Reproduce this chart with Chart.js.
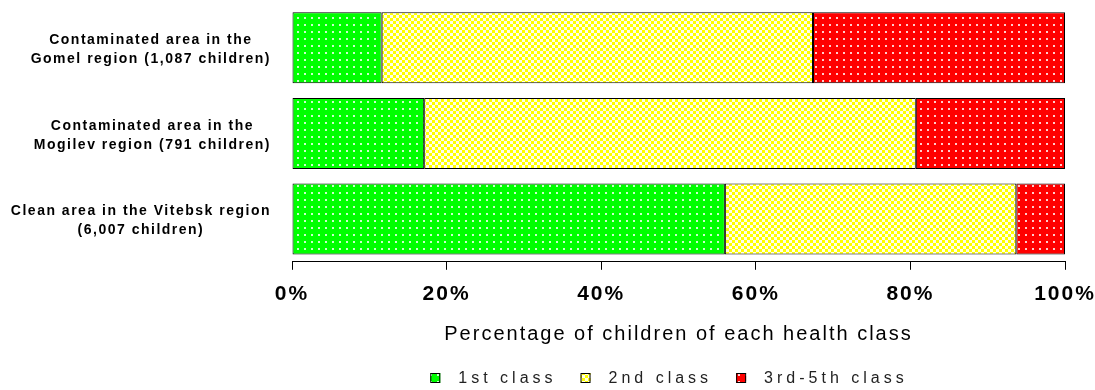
<!DOCTYPE html>
<html>
<head>
<meta charset="utf-8">
<script src="https://cdn.jsdelivr.net/npm/chart.js@4/dist/chart.umd.min.js"></script>
<style>
  html, body { margin: 0; padding: 0; background: #fff; }
  #wrap { width: 1095px; height: 390px; }
</style>
</head>
<body>
<div id="wrap"><canvas id="healthChart" width="1095" height="390"></canvas></div>
<script>
// region labels, two lines each
const regions = [
  ['Contaminated area in the', 'Gomel region (1,087 children)'],
  ['Contaminated area in the', 'Mogilev region (791 children)'],
  ['Clean area in the Vitebsk region', '(6,007 children)']
];

const seriesNames = ['1st class', '2nd class', '3rd-5th class'];

// percentage of children per health class
const firstClass = [11.6, 17.1, 56.0];
const secondClass = [55.8, 63.6, 37.7];
const thirdClass = [32.6, 19.3, 6.3];

const tickValues = [0, 20, 40, 60, 80, 100];

const canvas = document.getElementById('healthChart');
const ctx = canvas.getContext('2d');

// small repeating fills like the old spreadsheet patterns
function dotPattern(base, dot) {
  const c = document.createElement('canvas');
  c.width = 7; c.height = 7;
  const g = c.getContext('2d');
  g.fillStyle = base;
  g.fillRect(0, 0, 7, 7);
  g.fillStyle = dot;
  g.fillRect(3, 3, 2, 2);
  return ctx.createPattern(c, 'repeat');
}

function checkPattern(a, b) {
  const c = document.createElement('canvas');
  c.width = 6; c.height = 6;
  const g = c.getContext('2d');
  g.fillStyle = a;
  g.fillRect(0, 0, 6, 6);
  g.fillStyle = b;
  g.fillRect(3, 0, 3, 3);
  g.fillRect(0, 3, 3, 3);
  return ctx.createPattern(c, 'repeat');
}

const fills = [
  dotPattern('#00ff00', 'rgba(255,255,255,0.8)'),
  checkPattern('#ffff00', '#ffffe8'),
  dotPattern('#ff0000', 'rgba(255,255,255,0.8)')
];

const seriesData = [firstClass, secondClass, thirdClass];

// category labels and legend drawn with letter spacing
const sideText = {
  id: 'sideText',
  beforeLayout(chart) { chart.ctx.letterSpacing = '2px'; },
  beforeDraw(chart) { chart.ctx.letterSpacing = '2px'; },
  afterDraw(chart) {
    const c = chart.ctx;
    const yScale = chart.scales.y;
    c.save();

    c.font = 'bold 14px "Liberation Sans", Arial, sans-serif';
    c.letterSpacing = '1.5px';
    c.fillStyle = '#000';
    c.textAlign = 'center';
    c.textBaseline = 'middle';
    regions.forEach((lines, i) => {
      const yc = yScale.getPixelForValue(i) + 2;
      const w = Math.max(...lines.map(l => c.measureText(l).width));
      const xc = 271 - w / 2;
      lines.forEach((l, k) => {
        c.fillText(l, xc, yc + (k - (lines.length - 1) / 2) * 19);
      });
    });

    // legend
    c.font = '16px "Liberation Sans", Arial, sans-serif';
    c.letterSpacing = '4px';
    c.textAlign = 'left';
    const ly = 378;
    const box = 10, gap = 18, itemGap = 24;
    const widths = chart.data.datasets.map(ds => c.measureText(ds.label).width);
    const total = widths.reduce((s, w) => s + box + gap + w, 0) + itemGap * (widths.length - 1);
    let x = 669 - total / 2;
    chart.data.datasets.forEach((ds, i) => {
      c.fillStyle = ds.backgroundColor;
      c.fillRect(x, ly - 5, box, box);
      c.strokeStyle = '#000';
      c.lineWidth = 1;
      c.strokeRect(x + 0.5, ly - 4.5, box - 1, box - 1);
      c.fillStyle = '#222';
      c.fillText(ds.label, x + box + gap, ly + 1);
      x += box + gap + widths[i] + itemGap;
    });

    c.restore();
  }
};

new Chart(ctx, {
  type: 'bar',
  data: {
    labels: regions,
    datasets: seriesNames.map((name, i) => ({
      label: name,
      data: seriesData[i],
      backgroundColor: fills[i],
      borderColor: '#000',
      borderWidth: 1,
      borderSkipped: false,
      barPercentage: 1,
      categoryPercentage: 0.83
    }))
  },
  options: {
    indexAxis: 'y',
    responsive: false,
    animation: false,
    layout: { padding: { left: 292, top: 5, right: 30, bottom: 40 } },
    plugins: {
      legend: { display: false },
      tooltip: { enabled: false }
    },
    scales: {
      x: {
        stacked: true,
        min: 0,
        max: 100,
        afterBuildTicks(scale) {
          scale.ticks = tickValues.map(v => ({ value: v }));
        },
        afterFit(scale) {
          scale.paddingRight = 0;
          scale.paddingLeft = 0;
        },
        ticks: {
          color: '#000',
          padding: 12,
          font: { family: '"Liberation Sans", Arial, sans-serif', size: 21, weight: 'bold' },
          callback: v => v + '%'
        },
        grid: {
          display: true,
          drawOnChartArea: false,
          drawTicks: true,
          tickLength: 8,
          color: '#000',
          lineWidth: 1
        },
        border: { display: true, color: '#000', width: 1 },
        title: {
          display: true,
          text: 'Percentage of children of each health class',
          color: '#000',
          font: { family: '"Liberation Sans", Arial, sans-serif', size: 20 },
          padding: { top: 3, bottom: 4 }
        }
      },
      y: {
        stacked: true,
        display: false
      }
    }
  },
  plugins: [sideText]
});
</script>
</body>
</html>
